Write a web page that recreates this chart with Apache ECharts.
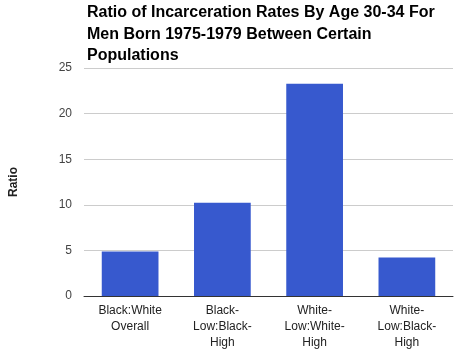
<!DOCTYPE html>
<html>
<head>
<meta charset="utf-8">
<script src="https://cdn.jsdelivr.net/npm/echarts@6/dist/echarts.min.js"></script>
<style>
  html, body { margin: 0; padding: 0; background: #fff; }
  #chart { width: 458px; height: 362px; }
</style>
</head>
<body>
<div id="chart"></div>
<script>
// 数据
const categories = ['Black:White\nOverall', 'Black-\nLow:Black-\nHigh', 'White-\nLow:White-\nHigh', 'White-\nLow:Black-\nHigh'];
const ratios = [4.87, 10.23, 23.28, 4.23];
const yTicks = [0, 5, 10, 15, 20, 25];

const chart = echarts.init(document.getElementById('chart'));

const option = {
    animation: false,
    title: {
        text: 'Ratio of Incarceration Rates By Age 30-34 For\nMen Born 1975-1979 Between Certain\nPopulations',
        left: 82,
        top: -3,
        textStyle: { fontFamily: 'Liberation Sans, Arial', fontSize: 16, fontWeight: 'bold', color: '#000', lineHeight: 21.5 }
    },
    grid: { left: 83, right: 5, top: 68, bottom: 66 },
    xAxis: {
        type: 'category',
        data: categories,
        axisTick: { show: false },
        axisLine: { lineStyle: { color: '#333', width: 1 } },
        axisLabel: {
            interval: 0,
            margin: 7,
            fontFamily: 'Liberation Sans, Arial',
            fontSize: 12,
            lineHeight: 16,
            color: '#222'
        }
    },
    yAxis: {
        type: 'value',
        min: yTicks[0],
        max: yTicks[yTicks.length - 1],
        interval: 5,
        name: 'Ratio',
        nameLocation: 'middle',
        nameGap: 64,
        nameTextStyle: { fontFamily: 'Liberation Sans, Arial', fontSize: 12, fontWeight: 'bold', color: '#222' },
        axisLine: { show: false },
        axisTick: { show: false },
        axisLabel: { margin: 12, fontFamily: 'Liberation Sans, Arial', fontSize: 12, color: '#444' },
        splitLine: { lineStyle: { color: '#ccc', width: 1 } }
    },
    series: [{
        type: 'bar',
        data: ratios,
        barWidth: '61.5%',
        itemStyle: { color: '#3759CE' }
    }]
};

chart.setOption(option);
</script>
</body>
</html>
